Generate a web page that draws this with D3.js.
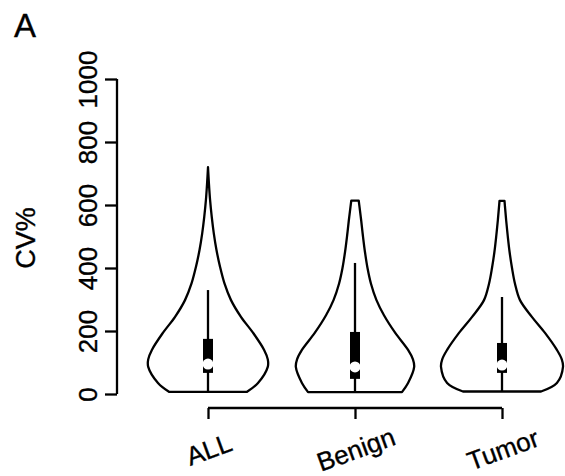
<!DOCTYPE html>
<html>
<head>
<meta charset="utf-8">
<script src="https://cdn.jsdelivr.net/npm/d3@7"></script>
<style>
  body { margin: 0; background: #fff; }
  svg text { font-family: "Liberation Sans", Arial, sans-serif; fill: #000; stroke: #000; stroke-width: 0.35px; }
</style>
</head>
<body>
<svg id="chart" width="565" height="476"></svg>
<script>
// groups
var categories = ["ALL", "Benign", "Tumor"];
var yTicks = [0, 200, 400, 600, 800, 1000];

// box summary per group (CV%)
var minVals = [7, 6, 8];
var q1Vals = [67, 48, 67];
var medians = [95, 86, 92];
var q3Vals = [175, 197, 162];
var whiskerHi = [330, 416, 308];

// density outline: CV% level and relative half width
var allCV = [7, 35, 86, 110, 140, 194, 245, 298, 351, 404, 457, 510, 563, 616, 669, 720];
var allDens = [0.64, 0.82, 0.98, 0.98, 0.92, 0.74, 0.54, 0.377, 0.27, 0.197, 0.139, 0.095, 0.061, 0.034, 0.015, 0];
var benignCV = [6, 35, 86, 110, 140, 194, 250, 298, 350, 400, 450, 500, 550, 594, 614];
var benignDens = [0.77, 0.87, 0.97, 0.95, 0.87, 0.66, 0.475, 0.352, 0.262, 0.205, 0.164, 0.131, 0.102, 0.074, 0.061];
var tumorCV = [8, 35, 86, 110, 140, 194, 245, 298, 350, 400, 450, 500, 550, 590, 613];
var tumorDens = [0.64, 0.90, 1.0, 0.98, 0.90, 0.705, 0.49, 0.295, 0.213, 0.164, 0.125, 0.095, 0.069, 0.051, 0.041];

var cvLevels = [allCV, benignCV, tumorCV];
var densities = [allDens, benignDens, tumorDens];

var svg = d3.select("#chart"),
    lw = 2.3;

var y = d3.scaleLinear().domain([0, 1000]).range([394, 79]);
var x = d3.scalePoint().domain(categories).range([208, 502]);
var w = d3.scaleLinear().domain([0, 1]).range([0, 61]);

// panel letter
svg.append("text")
    .attr("x", 14)
    .attr("y", 37)
    .style("font-size", "33px")
    .text("A");

// y axis
var yAxis = d3.axisLeft(y).tickValues(yTicks).tickSize(12).tickFormat(d3.format("d"));
var gy = svg.append("g")
    .attr("transform", "translate(117,0)")
    .call(yAxis);
gy.select(".domain").attr("stroke", "#000").attr("stroke-width", lw)
    .attr("d", "M0," + y(0) + "V" + y(1000));
gy.selectAll(".tick line").attr("stroke", "#000").attr("stroke-width", lw);
gy.selectAll(".tick text")
    .attr("x", 0).attr("y", 0).attr("dy", null)
    .attr("transform", "translate(-20,0) rotate(-90)")
    .attr("text-anchor", "middle")
    .style("font-size", "26px")
    .style("font-family", "'Liberation Sans', Arial, sans-serif");

svg.append("text")
    .attr("transform", "translate(35,238) rotate(-90)")
    .attr("text-anchor", "middle")
    .style("font-size", "27px")
    .text("CV%");

// x axis
var xAxis = d3.axisBottom(x).tickSize(11).tickFormat("");
var gx = svg.append("g")
    .attr("transform", "translate(0,408)")
    .call(xAxis);
gx.select(".domain").attr("stroke", "#000").attr("stroke-width", lw)
    .attr("d", "M" + x(categories[0]) + ",0H" + x(categories[2]));
gx.selectAll(".tick line").attr("stroke", "#000").attr("stroke-width", lw);

svg.selectAll("text.xlab")
    .data(categories)
    .enter()
    .append("text")
    .attr("class", "xlab")
    .attr("text-anchor", "middle")
    .attr("transform", function(d) {
        return "translate(" + (x(d) + 4) + ",458) rotate(-20)";
    })
    .style("font-size", "26px")
    .text(function(d) { return d; });

// violins
var violin = d3.area()
    .curve(d3.curveCatmullRom.alpha(0.5))
    .y(function(p) { return y(p[0]); });

categories.forEach(function(cat, i) {
    var cx = x(cat);
    var pts = d3.zip(cvLevels[i], densities[i]);

    violin
        .x0(function(p) { return cx - w(p[1]); })
        .x1(function(p) { return cx + w(p[1]); });

    svg.append("path")
        .attr("d", violin(pts))
        .attr("fill", "none")
        .attr("stroke", "#000")
        .attr("stroke-width", lw)
        .attr("stroke-linejoin", "round");

    // whisker
    svg.append("line")
        .attr("x1", cx).attr("x2", cx)
        .attr("y1", y(minVals[i]))
        .attr("y2", y(whiskerHi[i]))
        .attr("stroke", "#000")
        .attr("stroke-width", lw);

    // box
    svg.append("rect")
        .attr("x", cx - 5)
        .attr("width", 10)
        .attr("y", y(q3Vals[i]))
        .attr("height", y(q1Vals[i]) - y(q3Vals[i]))
        .attr("fill", "#000");

    // median
    svg.append("circle")
        .attr("cx", cx)
        .attr("cy", y(medians[i]))
        .attr("r", 5.5)
        .attr("fill", "#fff");
});
</script>
</body>
</html>
